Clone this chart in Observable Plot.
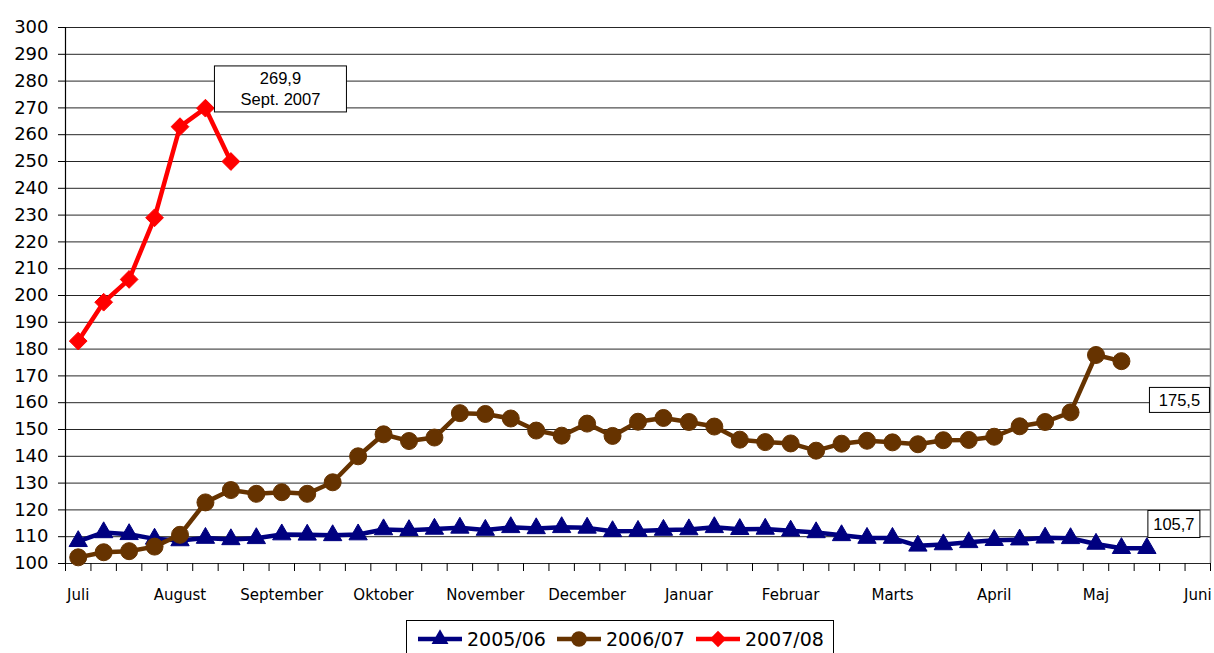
<!DOCTYPE html>
<html>
<head>
<meta charset="utf-8">
<script src="https://cdn.jsdelivr.net/npm/d3@7"></script>
<script src="https://cdn.jsdelivr.net/npm/@observablehq/plot@0.6"></script>
<style>
  html, body { margin: 0; padding: 0; background: #fff; }
  #chart svg { display: block; }
  #legend {
    position: absolute; left: 406px; top: 620px; width: 428px; height: 40px;
    box-sizing: border-box; border: 1px solid #000; background: #fff;
    display: flex; align-items: flex-start; padding: 6px 0 0 10px;
    font-family: "DejaVu Sans", sans-serif; font-size: 19px; color: #000;
  }
  #legend .item { display: flex; align-items: center; margin-right: 10px; }
  #legend svg { margin-right: 4px; }
</style>
</head>
<body>
<div id="chart"></div>
<div id="legend"></div>
<script>
// ---- data ----
const months = ["Juli", "August", "September", "Oktober", "November", "December",
                "Januar", "Februar", "Marts", "April", "Maj", "Juni"];
const weeksPerMonth = 4;
const weekCount = 45;
const yTicks = [100, 110, 120, 130, 140, 150, 160, 170, 180, 190, 200,
                210, 220, 230, 240, 250, 260, 270, 280, 290, 300];

const seriesNames = ["2005/06", "2006/07", "2007/08"];

const s0506 = [108.3, 111.6, 110.9, 109.2, 108.6, 109.5, 109.0, 109.4, 110.8, 110.7,
               110.5, 110.8, 112.7, 112.4, 112.9, 113.3, 112.5, 113.5, 113.1, 113.5,
               113.3, 112.0, 112.1, 112.5, 112.7, 113.5, 112.8, 112.9, 112.2, 111.6,
               110.5, 109.5, 109.5, 106.6, 107.1, 107.9, 108.7, 108.9, 109.6, 109.4,
               107.3, 105.7, 105.7];

const s0607 = [102.3, 104.2, 104.6, 106.3, 110.7, 122.8, 127.4, 126.0, 126.6, 126.0,
               130.3, 140.0, 148.2, 145.7, 147.0, 156.1, 155.8, 154.1, 149.6, 147.7,
               152.2, 147.6, 152.9, 154.3, 152.8, 151.1, 146.2, 145.3, 144.8, 142.1,
               144.7, 145.8, 145.2, 144.5, 146.0, 146.1, 147.3, 151.2, 152.8, 156.4,
               177.8, 175.5];

const s0708 = [183.0, 197.5, 206.0, 229.0, 263.0, 269.9, 250.0];

// annotation labels, anchored at a week index and a value
const annoWeeks  = [5, 41, 42];
const annoValues = [269.9, 175.5, 105.7];
const annoLabels = ["269,9\nSept. 2007", "175,5", "105,7"];

// ---- styles ----
const colors  = ["#000080", "#663300", "#ff0000"];
const symbols = ["triangle", "circle", "diamond2"];
const radii   = [6.8, 8.5, 8.0];
const annoOffsets = [[75, -20], [58, 38], [27, -25]];
const annoBoxes   = [[132, 46], [60, 25], [52, 27]];

const series = [s0506, s0607, s0708];

const seriesMarks = series.flatMap((vals, k) => [
  Plot.line(vals, {x: (d, i) => i + 0.5, y: d => d, stroke: colors[k], strokeWidth: 4.5,
                   strokeLinejoin: "round"}),
  Plot.dot(vals, {x: (d, i) => i + 0.5, y: d => d, symbol: symbols[k], r: radii[k],
                  fill: colors[k], stroke: colors[k], strokeWidth: 1})
]);

const annoMarks = annoLabels.map((lab, k) =>
  Plot.text([lab], {
    x: () => annoWeeks[k] + 0.5, y: () => annoValues[k], text: d => d,
    dx: annoOffsets[k][0], dy: annoOffsets[k][1],
    fontSize: 16.5, fontFamily: "Liberation Sans, Arial, sans-serif",
    lineHeight: 1.28, lineAnchor: "middle", textAnchor: "middle", fill: "#000",
    className: "anno"
  })
);

const chart = Plot.plot({
  width: 1214, height: 615,
  marginLeft: 65, marginRight: 4, marginTop: 27, marginBottom: 52,
  style: {fontFamily: "DejaVu Sans, sans-serif", background: "#fff", color: "#000"},
  x: {domain: [0, weekCount], axis: null},
  y: {domain: [100, 300], axis: null},
  marks: [
    Plot.ruleY(yTicks, {stroke: "#000", strokeWidth: 1, strokeOpacity: 0.85}),
    Plot.ruleX([0], {y1: 100, y2: 300, stroke: "#000", strokeWidth: 1.2}),
    Plot.ruleX([weekCount], {y1: 100, y2: 300, stroke: "#888", strokeWidth: 1.5}),
    Plot.axisY({ticks: yTicks, tickSize: 7, tickPadding: 10, fontSize: 18, anchor: "left",
                tickFormat: d => String(d)}),
    Plot.axisX({ticks: d3.range(weekCount + 1), tickSize: 8, tickFormat: () => "", anchor: "bottom"}),
    Plot.text(months, {x: (d, i) => i * weeksPerMonth + 0.5, frameAnchor: "bottom", dy: 32,
                       text: d => d, fontSize: 15, fill: "#000", lineAnchor: "middle"}),
    ...seriesMarks,
    ...annoMarks
  ]
});

document.getElementById("chart").appendChild(chart);

// boxes behind annotation texts
chart.querySelectorAll("g.anno").forEach((g, k) => {
  const t = g.querySelector("text");
  if (!t) return;
  const bb = t.getBBox();
  const [w, h] = annoBoxes[k];
  const cx = bb.x + bb.width / 2, cy = bb.y + bb.height / 2;
  const r = document.createElementNS("http://www.w3.org/2000/svg", "rect");
  r.setAttribute("x", cx - w / 2);
  r.setAttribute("y", cy - h / 2);
  r.setAttribute("width", w);
  r.setAttribute("height", h);
  r.setAttribute("fill", "#fff");
  r.setAttribute("stroke", "#000");
  r.setAttribute("stroke-width", 1);
  const tr = t.getAttribute("transform");
  if (tr) r.setAttribute("transform", tr);
  t.parentNode.insertBefore(r, t);
});

// legend
const legend = document.getElementById("legend");
seriesNames.forEach((name, k) => {
  const item = document.createElement("div");
  item.className = "item";
  const sw = d3.create("svg").attr("width", 46).attr("height", 24);
  sw.append("line").attr("x1", 1).attr("x2", 45).attr("y1", 12).attr("y2", 12)
    .attr("stroke", colors[k]).attr("stroke-width", 4.5);
  sw.append("path").attr("transform", "translate(23,12)")
    .attr("d", d3.symbol(k === 0 ? d3.symbolTriangle : k === 1 ? d3.symbolCircle : d3.symbolDiamond2,
                         Math.PI * radii[k] * radii[k] * 0.85)())
    .attr("fill", colors[k]);
  item.appendChild(sw.node());
  const span = document.createElement("span");
  span.textContent = name;
  item.appendChild(span);
  legend.appendChild(item);
});
</script>
</body>
</html>
